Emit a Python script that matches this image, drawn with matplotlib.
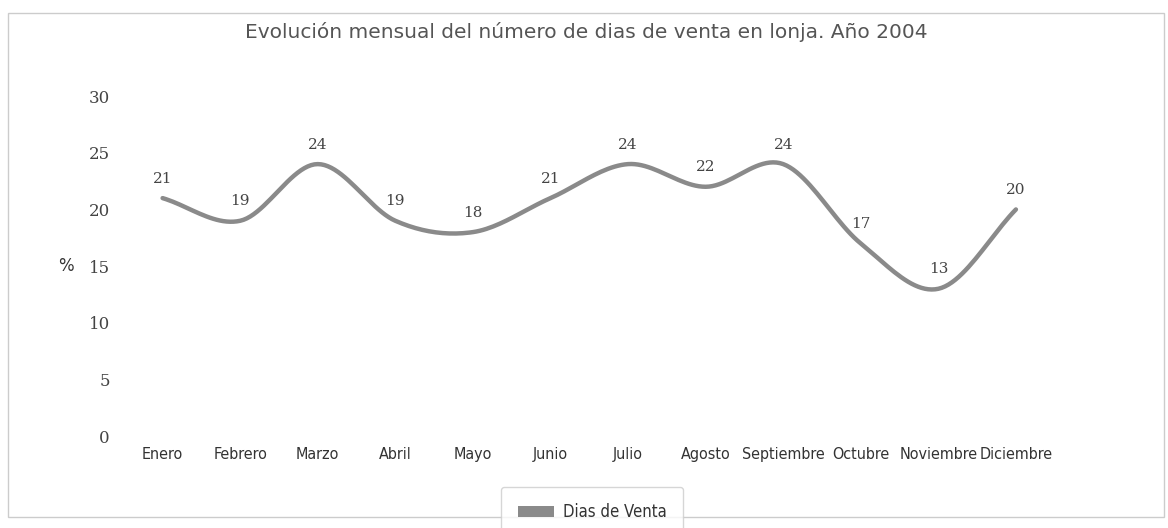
import numpy as np
import matplotlib
matplotlib.use("Agg")
import matplotlib.pyplot as plt
from matplotlib.patches import Rectangle, Patch
from matplotlib import font_manager

# data
meses = ["Enero", "Febrero", "Marzo", "Abril", "Mayo", "Junio", "Julio",
         "Agosto", "Septiembre", "Octubre", "Noviembre", "Diciembre"]
dias_venta = [21, 19, 24, 19, 18, 21, 24, 22, 24, 17, 13, 20]
y_ticks = [0, 5, 10, 15, 20, 25, 30]

LINE_COLOR = "#8a8a8a"
TEXT_COLOR = "#444444"

# condensed (regular weight) font for the month names, if one is installed
cond = [f for f in font_manager.fontManager.ttflist
        if f.name in ("DejaVu Sans", "DejaVu Sans Condensed", "Liberation Sans Narrow")
        and ("ondensed" in f.fname or "Narrow" in f.fname)
        and f.weight in (400, "normal", "regular") and f.style == "normal"]
if cond:
    month_fp = font_manager.FontProperties(fname=cond[0].fname, size=11.5)
    legend_fp = font_manager.FontProperties(fname=cond[0].fname, size=12)
else:
    month_fp = font_manager.FontProperties(family="DejaVu Sans", size=10)
    legend_fp = font_manager.FontProperties(family="DejaVu Sans", size=11)


def catmull_rom(x, y, n=24):
    # smooth curve through the points (like Excel's smoothed line)
    pts = np.column_stack([x, y]).astype(float)
    pts = np.vstack([2 * pts[0] - pts[1], pts, 2 * pts[-1] - pts[-2]])
    t = np.linspace(0, 1, n)[:, None]
    out = []
    for i in range(1, len(pts) - 2):
        p0, p1, p2, p3 = pts[i - 1], pts[i], pts[i + 1], pts[i + 2]
        seg = 0.5 * ((2 * p1) + (-p0 + p2) * t
                     + (2 * p0 - 5 * p1 + 4 * p2 - p3) * t ** 2
                     + (-p0 + 3 * p1 - 3 * p2 + p3) * t ** 3)
        out.append(seg if i == 1 else seg[1:])
    out = np.vstack(out)
    return out[:, 0], out[:, 1]


fig = plt.figure(figsize=(11.68, 5.28), dpi=100)
ax = fig.add_axes([0.106, 0.174, 0.797, 0.644])

x = np.arange(len(meses))
sx, sy = catmull_rom(x, dias_venta)
ax.plot(sx, sy, color=LINE_COLOR, lw=3.2, solid_capstyle="round")

for xi, v in zip(x, dias_venta):
    ax.annotate(str(v), (xi, v), xytext=(0, 9), textcoords="offset points",
                ha="center", va="bottom", fontsize=11, color=TEXT_COLOR,
                family=["DejaVu Serif"])

ax.set_xlim(-0.5, 11.5)
ax.set_ylim(0, 30)
ax.set_yticks(y_ticks)
ax.set_xticks(x)
ax.set_xticklabels(meses, fontproperties=month_fp, color="#333333")
ax.tick_params(axis="y", labelsize=12, labelcolor=TEXT_COLOR, length=0, pad=10)
ax.tick_params(axis="x", length=0, pad=8)
for lab in ax.get_yticklabels():
    lab.set_family(["DejaVu Serif"])
for s in ax.spines.values():
    s.set_visible(False)

ax.set_ylabel("%", rotation=0, fontsize=12, color="#333333", va="center")
ax.yaxis.set_label_coords(-0.062, 0.5)

fig.text(0.502, 0.94, "Evolución mensual del número de dias de venta en lonja. Año 2004",
         ha="center", va="center", fontsize=14.5, color="#555555")

# outer frame
fig.patches.append(Rectangle((0.007, 0.021), 0.99, 0.954, transform=fig.transFigure,
                             fill=False, edgecolor="#cccccc", lw=1))

leg = fig.legend(handles=[Patch(facecolor=LINE_COLOR, label="Dias de Venta")],
                 loc="upper center", bbox_to_anchor=(0.507, 0.078),
                 frameon=True, fancybox=True, edgecolor="#cccccc",
                 prop=legend_fp,
                 handlelength=2.2, handleheight=0.6, borderpad=1.0,
                 handletextpad=0.5, borderaxespad=0)
leg.get_frame().set_linewidth(1)
for t in leg.get_texts():
    t.set_color("#333333")

fig.savefig("out.png", dpi=100)
